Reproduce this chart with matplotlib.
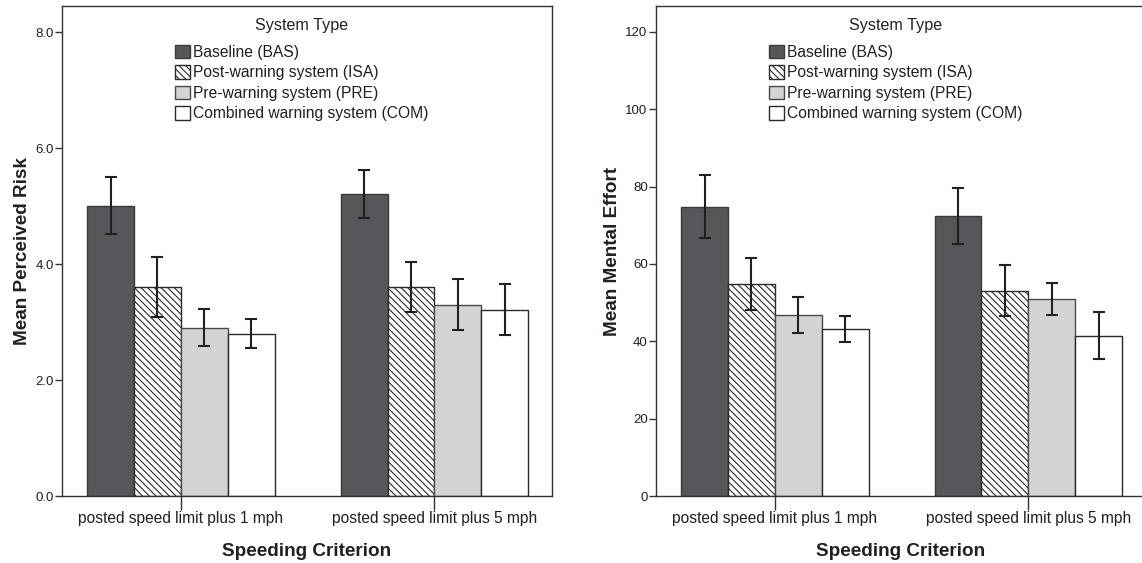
import matplotlib
matplotlib.use('Agg')
import matplotlib.pyplot as plt
import numpy as np
from matplotlib.patches import Patch

plt.rcParams['font.family'] = ['Liberation Sans', 'DejaVu Sans']
plt.rcParams['hatch.linewidth'] = 0.8

# ---------------- data ----------------
criteria = ['posted speed limit plus 1 mph', 'posted speed limit plus 5 mph']
systems = ['Baseline (BAS)', 'Post-warning system (ISA)',
           'Pre-warning system (PRE)', 'Combined warning system (COM)']
legend_title = 'System Type'

# Mean Perceived Risk (per system: [+1 mph, +5 mph])
risk_bas = [5.0, 5.2]
risk_isa = [3.6, 3.6]
risk_pre = [2.9, 3.3]
risk_com = [2.8, 3.2]
risk_lo = [[4.52, 4.80], [3.09, 3.18], [2.59, 2.86], [2.56, 2.77]]
risk_hi = [[5.50, 5.62], [4.13, 4.03], [3.22, 3.75], [3.05, 3.65]]

# Mean Mental Effort
eff_bas = [74.8, 72.4]
eff_isa = [54.8, 53.0]
eff_pre = [46.8, 50.9]
eff_com = [43.2, 41.3]
eff_lo = [[66.8, 65.2], [48.1, 46.6], [42.2, 46.8], [39.9, 35.3]]
eff_hi = [[83.0, 79.6], [61.6, 59.7], [51.5, 55.1], [46.6, 47.6]]

risk_yticks = [0, 2, 4, 6, 8]
eff_yticks = [0, 20, 40, 60, 80, 100, 120]

# ---------------- style ----------------
faces = ['#55575a', 'white', '#d2d3d5', 'white']
edges = ['#3a3a3c', '#2a2a2a', '#4a4a4a', '#2a2a2a']
hatches = [None, '\\\\\\\\\\', None, None]
dark = '#231f20'

fig = plt.figure(figsize=(11.42, 5.63), dpi=100)
ax1 = fig.add_axes([0.0543, 0.119, 0.4291, 0.8703])
ax2 = fig.add_axes([0.5744, 0.119, 0.4291, 0.8703])

w = 0.185
xg = np.arange(len(criteria))


def draw(ax, means, lo, hi, ylim, yticks, fmt, ylabel):
    for i in range(4):
        xs = xg + (i - 1.5) * w
        ax.bar(xs, means[i], width=w, color=faces[i], edgecolor=edges[i],
               hatch=hatches[i], linewidth=1.0, zorder=2)
        m = np.array(means[i])
        yerr = np.vstack([m - np.array(lo[i]), np.array(hi[i]) - m])
        ax.errorbar(xs, m, yerr=yerr, fmt='none', ecolor=dark, elinewidth=1.5,
                    capsize=4.5, capthick=1.5, zorder=3)
    ax.set_xlim(-0.469, 1.464)
    ax.set_ylim(*ylim)
    ax.set_yticks(yticks)
    ax.set_yticklabels([fmt.format(v) for v in yticks])
    ax.set_xticks(xg)
    ax.set_xticklabels(criteria)
    ax.tick_params(axis='y', direction='out', length=5, width=1, color='#333333',
                   labelsize=9.5, labelcolor=dark, pad=1)
    ax.tick_params(axis='x', direction='out', length=10, width=1, color='#333333',
                   labelsize=11.2, labelcolor=dark, pad=1)
    for s in ax.spines.values():
        s.set_color('#333333')
        s.set_linewidth(1.0)
    ax.set_ylabel(ylabel, fontsize=13.6, fontweight='bold', color=dark, labelpad=3)
    ax.set_xlabel('Speeding Criterion', fontsize=13.6, fontweight='bold',
                  color=dark, labelpad=12)
    handles = [Patch(facecolor=faces[i], edgecolor=edges[i], hatch=hatches[i],
                     linewidth=1.0, label=systems[i]) for i in range(4)]
    leg = ax.legend(handles=handles, loc='center left',
                    bbox_to_anchor=(0.2306, 0.843), frameon=False, fontsize=11.25,
                    handlelength=0.98, handleheight=0.98,
                    handletextpad=0.2, labelspacing=0.33, borderpad=0,
                    borderaxespad=0)
    for t in leg.get_texts():
        t.set_color(dark)
    ax.text(0.488, 0.961, legend_title, transform=ax.transAxes, ha='center',
            va='center', fontsize=11.6, color=dark)


draw(ax1, [risk_bas, risk_isa, risk_pre, risk_com], risk_lo, risk_hi,
     (0, 8.45), risk_yticks, '{:.1f}', 'Mean Perceived Risk')
draw(ax2, [eff_bas, eff_isa, eff_pre, eff_com], eff_lo, eff_hi,
     (0, 126.7), eff_yticks, '{:d}', 'Mean Mental Effort')

fig.savefig('out.png', dpi=100)
